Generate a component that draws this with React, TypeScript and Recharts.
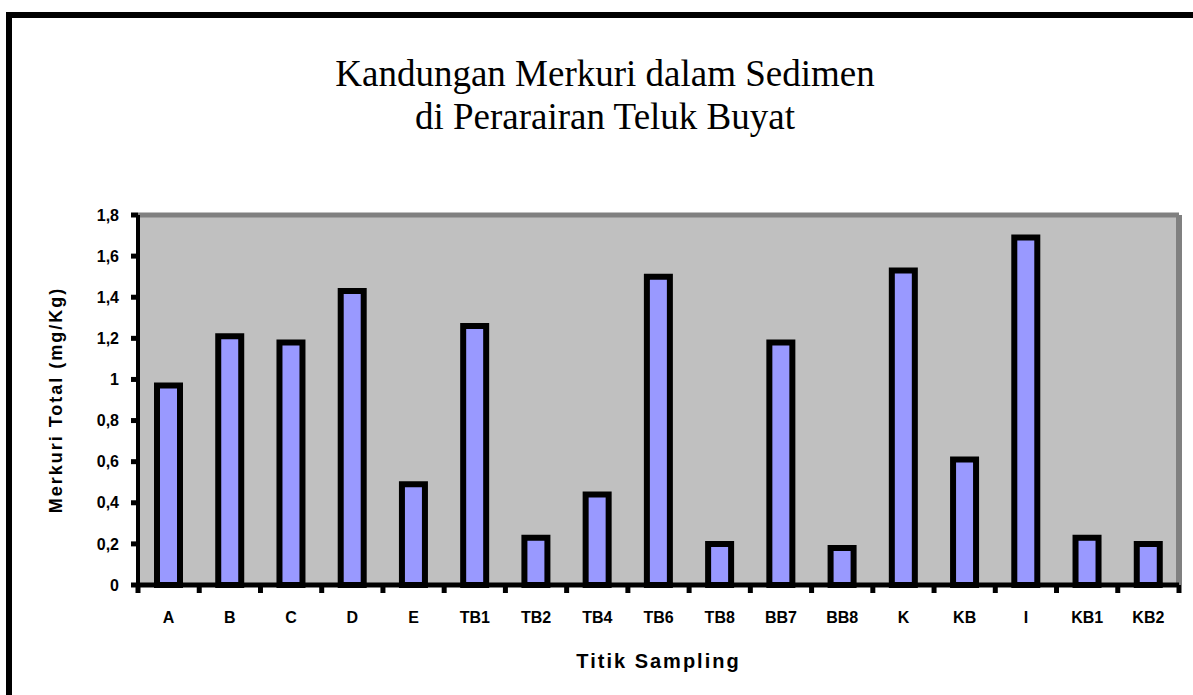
import { Bar, BarChart, CartesianGrid, ReferenceLine, XAxis, YAxis } from 'recharts'

const stations = ['A', 'B', 'C', 'D', 'E', 'TB1', 'TB2', 'TB4', 'TB6', 'TB8', 'BB7', 'BB8', 'K', 'KB', 'I', 'KB1', 'KB2']
const mercury = [0.97, 1.21, 1.18, 1.43, 0.49, 1.26, 0.23, 0.44, 1.5, 0.2, 1.18, 0.18, 1.53, 0.61, 1.69, 0.23, 0.2]
const yTicks = [0, 0.2, 0.4, 0.6, 0.8, 1, 1.2, 1.4, 1.6, 1.8]

const data = stations.map((name, i) => ({ name, hg: mercury[i] }))

const pixelFont = '"Liberation Sans", Arial, sans-serif'
const tickStyle = { fill: '#000', fontSize: 16, fontWeight: 700, fontFamily: pixelFont }
const fmt = (v: number) => String(v).replace('.', ',')

const X_TICK_SIZE = 7
const X_TICK_MARGIN = 20

// Excel-style category ticks: marks sit between the categories, labels in the middle
function StationTick({ x, y, payload, index }: any) {
  const half = payload.offset ?? 0
  const axisY = y - X_TICK_SIZE - X_TICK_MARGIN
  return (
    <g>
      <line x1={x - half} x2={x - half} y1={axisY} y2={axisY + 8} stroke="#000" strokeWidth={5} />
      {index === stations.length - 1 && (
        <line x1={x + half} x2={x + half} y1={axisY} y2={axisY + 8} stroke="#000" strokeWidth={5} />
      )}
      <text x={x} y={y} dy="0.71em" textAnchor="middle" {...tickStyle}>
        {payload.value}
      </text>
    </g>
  )
}

export default function App() {
  return (
    <div style={{ position: 'absolute', left: 0, top: 0, width: 1193, height: 695, overflow: 'hidden', background: '#fff' }}>
      <div
        style={{
          position: 'absolute',
          left: 6,
          top: 12,
          width: 1300,
          height: 800,
          borderTop: '6px solid #000',
          borderLeft: '6px solid #000',
        }}
      />
      <div
        style={{
          position: 'absolute',
          left: 0,
          top: 52,
          width: 1210,
          textAlign: 'center',
          fontFamily: '"Liberation Serif", "Times New Roman", serif',
          fontSize: 37,
          lineHeight: '43px',
          color: '#000',
        }}
      >
        Kandungan Merkuri dalam Sedimen
        <br />
        di Perarairan Teluk Buyat
      </div>
      <div style={{ position: 'absolute', left: 0, top: 0 }}>
        <BarChart width={1193} height={695} data={data} margin={{ top: 215, right: 14, bottom: 30, left: 18 }}>
          <CartesianGrid horizontal={false} vertical={false} fill="#C0C0C0" />
          <ReferenceLine y={1.8} stroke="#808080" strokeWidth={5} ifOverflow="visible" />
          <ReferenceLine
            x={stations[stations.length - 1]}
            position="end"
            stroke="#808080"
            strokeWidth={6}
            ifOverflow="visible"
          />
          <XAxis
            dataKey="name"
            height={80}
            interval={0}
            tickLine={false}
            tickSize={X_TICK_SIZE}
            tickMargin={X_TICK_MARGIN}
            tick={<StationTick />}
            axisLine={{ stroke: '#000', strokeWidth: 5 }}
            label={({ viewBox }: any) => (
              <text
                x={viewBox.x + viewBox.width / 2}
                y={viewBox.y + 83}
                textAnchor="middle"
                fontFamily={pixelFont}
                fontSize={20}
                fontWeight={700}
                letterSpacing={2}
                fill="#000"
              >
                Titik Sampling
              </text>
            )}
          />
          <YAxis
            width={120}
            domain={[0, 1.8]}
            ticks={yTicks}
            interval={0}
            tickFormatter={fmt}
            tick={tickStyle}
            tickSize={7}
            tickMargin={12}
            tickLine={{ stroke: '#000', strokeWidth: 5 }}
            axisLine={{ stroke: '#000', strokeWidth: 4 }}
            label={({ viewBox }: any) => {
              const x = viewBox.x + 38
              const y = viewBox.y + viewBox.height / 2
              return (
                <text
                  x={x}
                  y={y}
                  transform={`rotate(-90 ${x} ${y})`}
                  textAnchor="middle"
                  dominantBaseline="central"
                  fontFamily={pixelFont}
                  fontSize={18}
                  fontWeight={700}
                  letterSpacing={2}
                  fill="#000"
                >
                  Merkuri Total (mg/Kg)
                </text>
              )
            }}
          />
          <Bar dataKey="hg" fill="#9999FF" stroke="#000" strokeWidth={6} barSize={23} isAnimationActive={false} />
        </BarChart>
      </div>
    </div>
  )
}
